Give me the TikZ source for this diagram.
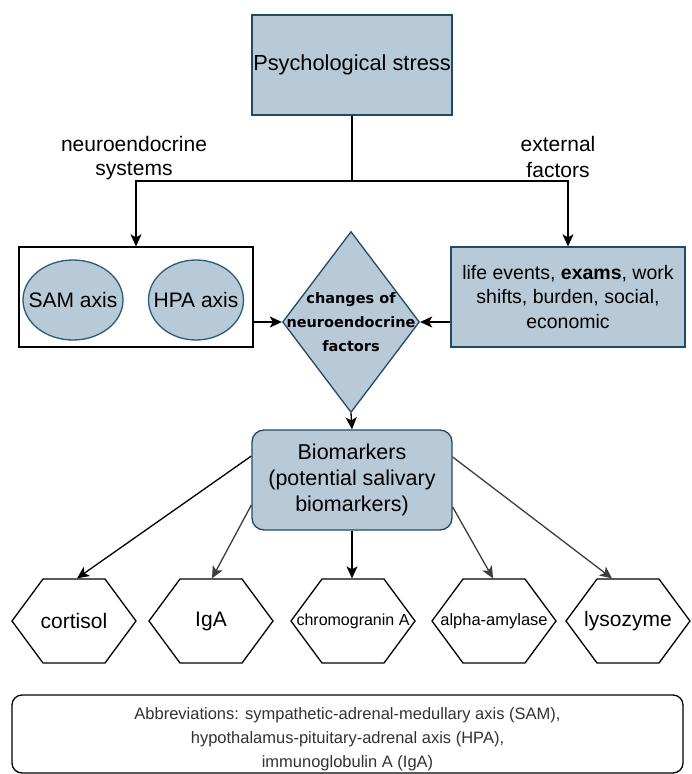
\documentclass[tikz,border=0pt]{standalone}
\usepackage{fontspec}
\setmainfont{Liberation Sans}
\newfontfamily\diafont{DejaVu Sans}
\usetikzlibrary{shapes.geometric,arrows.meta}

\definecolor{boxfill}{RGB}{184,202,216}
\definecolor{boxline}{RGB}{33,74,102}
\definecolor{ringline}{RGB}{40,92,120}
\definecolor{arrowgray}{RGB}{62,62,62}
\definecolor{abbrgray}{RGB}{50,50,50}
\newcommand{\fs}[2]{\fontsize{#1}{#2}\selectfont}

\tikzstyle{lines}=[%
	x = 1pt, y = -1pt,
	every path/.style = {
		line width = 1.3pt
	},
	>={Stealth[length=12pt,width=11pt,inset=3pt]}
]
\tikzstyle{bluebox}=[draw=boxline, fill=boxfill, align=center, inner sep=0pt]
\tikzstyle{plainbox}=[draw=black, fill=white, inner sep=0pt]
\tikzstyle{axisring}=[ellipse, draw=ringline, fill=boxfill, inner sep=0pt, minimum height=80pt]
\tikzstyle{axistext}=[font=\fs{21}{25}]
\tikzstyle{diam}=[diamond, draw=boxline, fill=boxfill, inner sep=0pt, minimum width=137pt, minimum height=181pt]
\tikzstyle{diamtext}=[align=center, font=\diafont\bfseries\fs{14.5}{24}]
\tikzstyle{hexline}=[draw=black, fill=white, line join=miter]
\tikzstyle{hexbox}=[inner sep=0pt, minimum width=125pt, minimum height=84pt]

\begin{document}
\begin{tikzpicture}[lines]
	% Background, frame
	\useasboundingbox[fill=white] (0,0) rectangle (691,774);

	% Stress and its two branches
	\node[bluebox, minimum width=200pt, minimum height=100pt, font=\fs{21.8}{26}] (stress) at (352,65) {Psychological stress};
	\node[align=center, font=\fs{21}{24}] (neurolab) at (134,158) {neuroendocrine\\systems};
	\node[align=center, font=\fs{21}{26}] (extlab) at (558,157) {external\\factors};
	\coordinate (split) at (352,181);

	% Middle row
	\node[plainbox, minimum width=234pt, minimum height=100pt] (axes) at (136,297) {};
	\node[axisring, minimum width=100pt, label={[axistext]center:SAM axis}] (sam) at (73,300) {};
	\node[axisring, minimum width=95pt, label={[axistext]center:HPA axis}] (hpa) at (196,300) {};
	\node[diam, label={[diamtext]center:{changes of\\neuroendocrine\\factors}}] (change) at (351,322) {};
	\node[bluebox, minimum width=234pt, minimum height=100pt, font=\fs{19.5}{24.5}] (ext) at (568,297) {life events, \textbf{exams}, work\\shifts, burden, social,\\economic};

	% Biomarkers
	\node[bluebox, rounded corners=12pt, minimum width=200pt, minimum height=100pt, font=\fs{21.5}{26}] (bio) at (352,480) {Biomarkers\\(potential salivary\\biomarkers)};
	\foreach \name/\x/\txt/\size in {cort/74/cortisol/21, iga/211/IgA/21, chromo/353/chromogranin A/16, amyl/494/alpha-amylase/16.5, lyso/628/lysozyme/21} {
		\draw[hexline] (\x-62,621) -- ++(31,-42) -- ++(62,0) -- ++(31,42) -- ++(-31,42) -- ++(-62,0) -- cycle;
		\node[hexbox, font=\fs{\size}{\size}] (\name) at (\x,621) {\txt};
	}

	% Connectors
	\draw (stress.south) -- (split);
	\draw[->] (split) -| (axes.north);
	\draw[->] (split) -| (ext.north);
	\draw[->] (axes.east |- change) -- (change.west);
	\draw[->] (ext.west |- change) -- (change.east);
	\draw[->] (change.south) -- (bio.north);
	\draw[->] ([yshift=24pt]bio.west) -- ([xshift=3pt]cort.north);
	\draw[->, arrowgray] ([yshift=-25pt]bio.west) -- ([xshift=1pt]iga.north);
	\draw[->] (bio.south) -- (bio.south |- chromo.north);
	\draw[->, arrowgray] ([yshift=-27pt]bio.east) -- ([xshift=-1pt]amyl.north);
	\draw[->, arrowgray] ([yshift=23pt]bio.east) -- ([xshift=-16pt]lyso.north);

	% Abbreviations
	\node[plainbox, rounded corners=10pt, minimum width=671pt, minimum height=78pt] (abbr) at (347.5,734) {};
	\node[align=center, text=abbrgray, font=\fs{16.5}{24}] (abbrtext) at ([yshift=-5pt]abbr.center) {Abbreviations: sympathetic-adrenal-medullary axis (SAM),\\hypothalamus-pituitary-adrenal axis (HPA),\\immunoglobulin A (IgA)};
\end{tikzpicture}
\end{document}
